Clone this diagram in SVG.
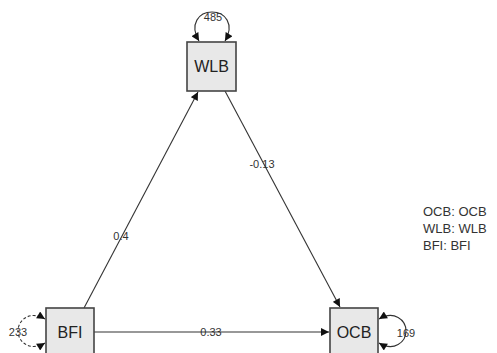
<svg xmlns="http://www.w3.org/2000/svg" width="497" height="353" viewBox="0 0 497 353">
<defs>
<marker id="ah" viewBox="0 0 10 10" refX="10" refY="5" markerWidth="10" markerHeight="8" markerUnits="userSpaceOnUse" orient="auto-start-reverse">
<path d="M0,0 L10,5 L0,10 z" fill="#111"/>
</marker>
<style>
.node rect{fill:#e8e8e8;stroke:#444;stroke-width:1.6}
.node text{font-family:"Liberation Sans",Arial,sans-serif;font-size:16px;fill:#222;text-anchor:middle}
.edge{fill:none;stroke:#333;stroke-width:1.1}
.lbl{font-family:"Liberation Sans",Arial,sans-serif;font-size:11px;fill:#333;text-anchor:middle}
.leg{font-family:"Liberation Sans",Arial,sans-serif;font-size:13px;fill:#333}
</style>
</defs>
<rect width="497" height="353" fill="#fff"/>
<g id="connectors">
<path class="edge" d="M84,308 L198,92" marker-end="url(#ah)"/>
<path class="edge" d="M225,91 L340,307" marker-end="url(#ah)"/>
<path class="edge" d="M94,332 L329,332" marker-end="url(#ah)"/>
<path class="edge" d="M199,41 C189,24 199,12 212,12 C225,12 235,24 225,41" marker-start="url(#ah)" marker-end="url(#ah)"/>
<path class="edge" d="M45,319 C30,310 18,320 18,331 C18,342 30,352 45,343" stroke-dasharray="3,2" marker-start="url(#ah)" marker-end="url(#ah)"/>
<path class="edge" d="M379,319 C394,310 406,320 406,331 C406,342 394,352 379,343" marker-start="url(#ah)" marker-end="url(#ah)"/>
<text class="lbl" x="121" y="240">0.4</text>
<text class="lbl" x="262" y="168">-0.13</text>
<text class="lbl" x="211" y="336">0.33</text>
<text class="lbl" x="213" y="21">485</text>
<text class="lbl" x="18" y="336">233</text>
<text class="lbl" x="406" y="337">169</text>
</g>
<g id="WLB" class="node">
<rect x="187" y="42" width="49" height="49"/>
<text x="211.5" y="72">WLB</text>
</g>
<g id="BFI" class="node">
<rect x="46" y="308" width="48" height="50"/>
<text x="70" y="338">BFI</text>
</g>
<g id="OCB" class="node">
<rect x="330" y="308" width="48" height="50"/>
<text x="354" y="338">OCB</text>
</g>
<g id="legend">
<text class="leg" x="423" y="216">OCB: OCB</text>
<text class="leg" x="423" y="233">WLB: WLB</text>
<text class="leg" x="423" y="250">BFI: BFI</text>
</g>
</svg>
